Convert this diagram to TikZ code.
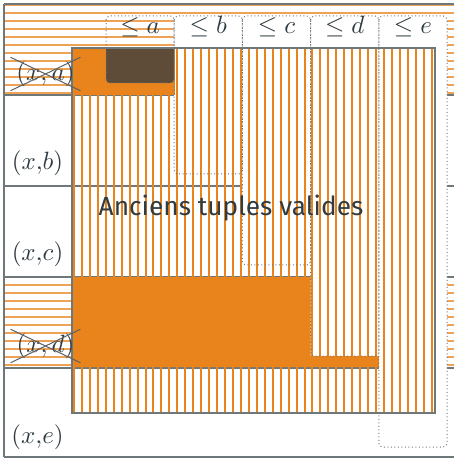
\documentclass[tikz,border=0pt]{standalone}
\usepackage{fontspec}
\setsansfont{Fira Sans}

\definecolor{orangeT}{RGB}{233,131,28}
\definecolor{brunT}{RGB}{94,75,56}
\definecolor{grisT}{RGB}{110,120,122}
\definecolor{encre}{RGB}{48,60,66}

\begin{document}
\begin{tikzpicture}[x=0.4pt,y=-0.4pt,
    ligne/.style={draw=grisT, line width=0.6pt},
    colonne/.style={draw=grisT, densely dotted, line width=0.4pt, rounded corners=1.5pt},
    hachure/.style={draw=orangeT!75, line width=0.7pt},
    rayure/.style={draw=orangeT, line width=0.7pt},
    etiquette/.style={text=encre, inner sep=1.5pt},
    barre/.style={draw=encre!80, line width=0.4pt}]
  \useasboundingbox (0,0) rectangle (454,458);
  \clip (0,0) rectangle (454,458);

  % lignes barrees (x,a) et (x,d)
  \foreach \k in {0,...,11} \draw[hachure] (4,5+8*\k) -- (454,5+8*\k);
  \foreach \k in {0,...,10} \draw[hachure] (4,285+8*\k) -- (454,285+8*\k);

  % separations des lignes
  \foreach \y in {4,95,186,277,368,457} \draw[ligne] (4,\y) -- (454,\y);
  \draw[ligne] (4,4) -- (4,457);

  % colonnes <= b ... <= e (fond blanc)
  \foreach \i in {1,...,4}
    \fill[white, rounded corners=1.5pt] (106+68.2*\i,16) rectangle (174.2+68.2*\i,83+91*\i);

  % anciens tuples : rayures verticales
  \foreach \i in {0,...,45} \draw[rayure] ({round(74+7.95*\i)},48) -- ++(0,365);

  % zones orange
  \fill[orangeT] (72,48) rectangle (175,95);
  \begin{scope}
    \clip (72,48) rectangle (175,95);
    \fill[brunT, rounded corners=1.5pt] (106,16) rectangle (174.2,83); % colonne <= a
  \end{scope}
  \fill[orangeT] (72,277) -- (310.6,277) -- (310.6,356) -- (378.8,356)
    -- (378.8,367) -- (72,367) -- cycle;

  % bords des colonnes
  \foreach \i in {0,...,4}
    \draw[colonne] (106+68.2*\i,16) rectangle (174.2+68.2*\i,83+91*\i);

  % cadre
  \draw[ligne] (72,48) rectangle (435,413);

  % textes
  \foreach \l [count=\i from 0] in {a,b,c,d,e}
    \node[etiquette] (c\l) at (140.1+68.2*\i,27) {$\leq \l$};
  \node[etiquette, inner xsep=2.2pt] (xa) at (45.5,74) {$(x,a)$};
  \node[etiquette] (xb) at (37.5,163) {$(x{,}b)$};
  \node[etiquette] (xc) at (37.5,254) {$(x{,}c)$};
  \node[etiquette, inner xsep=2.2pt] (xd) at (45.5,346) {$(x,d)$};
  \node[etiquette] (xe) at (37.5,437) {$(x{,}e)$};
  \node[etiquette, font=\sffamily\fontsize{10.5}{12}\selectfont] (anciens) at (231,208) {Anciens tuples valides};

  % croix
  \draw[barre] (xa.south west) -- (xa.north east) (xa.north west) -- (xa.south east);
  \draw[barre] (xd.south west) -- (xd.north east) (xd.north west) -- (xd.south east);
\end{tikzpicture}
\end{document}
